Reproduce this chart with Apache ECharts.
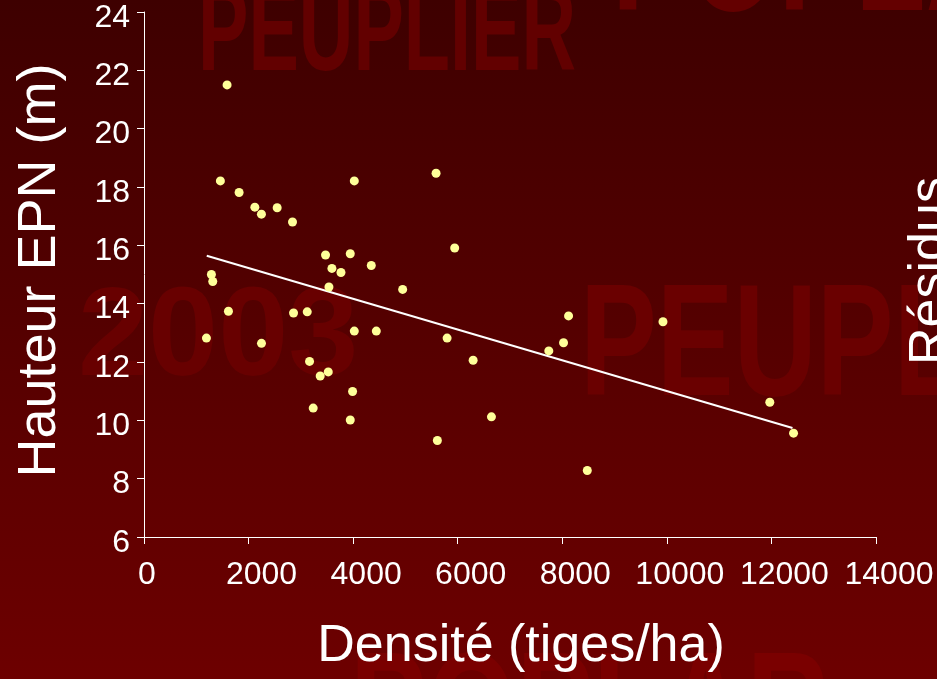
<!DOCTYPE html>
<html>
<head>
<meta charset="utf-8">
<script src="https://cdn.jsdelivr.net/npm/echarts@6/dist/echarts.min.js"></script>
<style>
html,body{margin:0;padding:0;background:#550000;}
#chart{width:937px;height:679px;}
</style>
</head>
<body>
<div id="chart"></div>
<script>
// Densité (tiges/ha) vs Hauteur EPN (m)
var densite = [1589,1461,1819,2120,2246,2547,2840,4022,5586,3472,3945,3594,3767,4347,1289,1315,3537,4947,5942,1615,2860,3122,1194,2247,4022,4443,5797,6295,3166,3524,3370,3989,3236,3945,6645,5611,8120,9926,8024,7742,11969,12423,8478];
var hauteur = [21.5,18.21,17.81,17.31,17.07,17.29,16.80,18.21,18.47,15.67,15.71,15.21,15.07,15.31,15.0,14.76,14.57,14.49,15.91,13.74,13.68,13.72,12.82,12.64,13.06,13.06,12.82,12.06,12.02,11.66,11.52,10.99,10.42,10.01,10.12,9.31,13.58,13.38,12.66,12.38,10.62,9.56,8.28];
// regression line end points
var trendX = [1200, 12403];
var trendY = [15.64, 9.74];
var xTicks = [0,2000,4000,6000,8000,10000,12000,14000];
var yTicks = [6,8,10,12,14,16,18,20,22,24];

var points = densite.map(function(d,i){return [d, hauteur[i]];});
var trend = trendX.map(function(d,i){return [d, trendY[i]];});

var xMin = xTicks[0], xMax = xTicks[xTicks.length-1];
var yMin = yTicks[0], yMax = yTicks[yTicks.length-1];

var chart = echarts.init(document.getElementById('chart'), null, {renderer:'canvas'});
var font = "'Liberation Sans', Arial, sans-serif";
var wmFont = "'Liberation Sans', Arial, sans-serif";
var option = {
  animation:false,
  backgroundColor:{type:'linear',x:0,y:0,x2:0,y2:1,colorStops:[{offset:0,color:'#3e0000'},{offset:1,color:'#6d0000'}]},
  graphic:{elements:[
    {type:'text', z:-5, x:198, y:37, scaleX:0.63, style:{text:'PEUPLIER', fill:'#620000', font:'bold 120px '+wmFont, textAlign:'left', textVerticalAlign:'middle'}},
    {type:'text', z:-5, x:612, y:-34, scaleX:0.72, style:{text:'POPLAR', fill:'#640000', font:'bold 160px '+wmFont, textAlign:'left', textVerticalAlign:'middle'}},
    {type:'text', z:-5, x:78, y:340, scaleX:1.0, style:{text:'2003', fill:'#680000', font:'bold 126px '+wmFont, textAlign:'left', textVerticalAlign:'middle'}},
    {type:'text', z:-5, x:580, y:351, scaleX:0.72, style:{text:'PEUPLIER', fill:'#6a0000', font:'bold 160px '+wmFont, textAlign:'left', textVerticalAlign:'middle'}},
    {type:'text', z:-5, x:350, y:719, scaleX:0.72, style:{text:'POPLAR', fill:'#7a0000', font:'bold 160px '+wmFont, textAlign:'left', textVerticalAlign:'middle'}},
    {type:'text', z:5, x:931, y:271, rotation:Math.PI/2, style:{text:'Résidus', fill:'#ffffff', font:'52px '+font, textAlign:'center', textVerticalAlign:'middle'}}
  ]},
  grid:[
    {left:144, right:61, top:12, bottom:142, containLabel:false, outerBoundsMode:'none'},
    // label grid: the reference prints x tick labels ~13px right of their ticks
    {left:157, right:48, top:12, bottom:142, containLabel:false, outerBoundsMode:'none'}
  ],
  xAxis:[{
    gridIndex:0, type:'value', min:xMin, max:xMax, interval:2000, position:'bottom',
    name:'Densité (tiges/ha)', nameLocation:'middle', nameGap:84,
    nameTextStyle:{color:'#ffffff', fontSize:52, fontFamily:font, lineHeight:52, padding:[0,0,0,22]},
    axisLine:{show:true, onZero:false, lineStyle:{color:'#ffffff', width:1}},
    axisTick:{show:true, inside:false, length:7, lineStyle:{color:'#ffffff', width:1}},
    axisLabel:{show:false},
    splitLine:{show:false}
  },{
    gridIndex:1, type:'value', min:xMin, max:xMax, interval:2000, position:'bottom',
    axisLine:{show:false}, axisTick:{show:false}, splitLine:{show:false},
    axisLabel:{show:true, margin:22, color:'#ffffff', fontSize:32, fontFamily:font, lineHeight:32,
      showMinLabel:true, showMaxLabel:true, hideOverlap:false,
      formatter:function(v){ return v===0 ? '{z|0}' : String(v); },
      rich:{z:{color:'#ffffff', fontSize:32, fontFamily:font, lineHeight:32, padding:[0,20,0,0]}}}
  }],
  yAxis:[{
    gridIndex:0, type:'value', min:yMin, max:yMax, interval:2,
    name:'Hauteur EPN (m)', nameLocation:'middle', nameGap:77, nameRotate:90,
    nameTextStyle:{color:'#ffffff', fontSize:54, fontFamily:font, lineHeight:54, padding:[0,0,0,8]},
    axisLine:{show:true, onZero:false, lineStyle:{color:'#ffffff', width:1}},
    axisTick:{show:true, inside:false, length:7, lineStyle:{color:'#ffffff', width:1}},
    axisLabel:{show:true, margin:14, color:'#ffffff', fontSize:32, fontFamily:font, lineHeight:12, verticalAlign:'top',
      showMinLabel:true, showMaxLabel:true, hideOverlap:false},
    splitLine:{show:false}
  },{
    gridIndex:1, type:'value', min:yMin, max:yMax, show:false
  }],
  series:[
    {type:'scatter', xAxisIndex:0, yAxisIndex:0, data:points, symbol:'circle', symbolSize:9, itemStyle:{color:'#ffff99', opacity:1}, z:3},
    {type:'line', xAxisIndex:0, yAxisIndex:0, data:trend, symbol:'none', lineStyle:{color:'#ffffff', width:2}, z:2, silent:true}
  ]
};
chart.setOption(option);
</script>
</body>
</html>
